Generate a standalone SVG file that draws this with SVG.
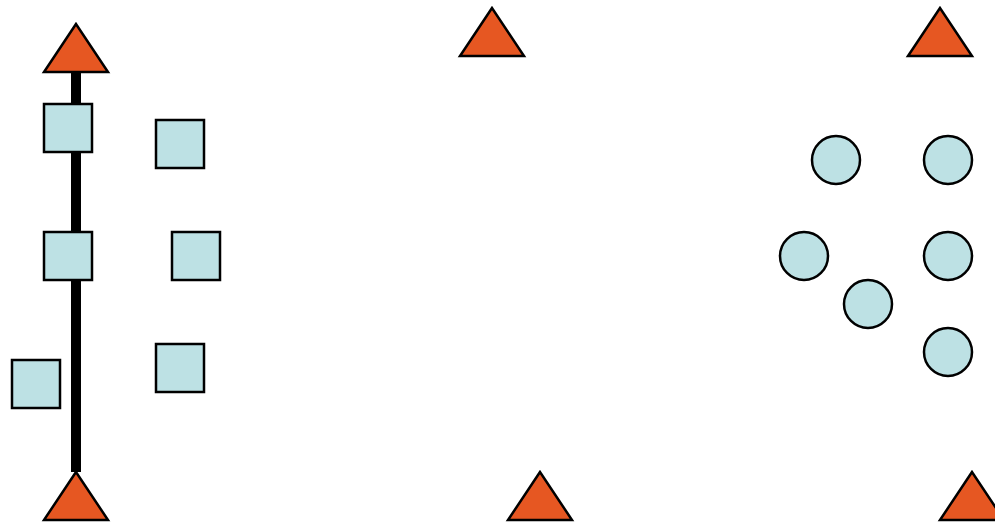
<svg xmlns="http://www.w3.org/2000/svg" width="995" height="523" viewBox="0 0 995 523">
<style>
.tri{fill:#e65722;stroke:#000;stroke-width:2.5;stroke-linejoin:miter}
.sq{fill:#bde1e4;stroke:#000;stroke-width:2.5}
.ci{fill:#bde1e4;stroke:#000;stroke-width:2.5}
.conn{stroke:#000;stroke-width:10;fill:none}
</style>
<rect width="995" height="523" fill="#fff"/>
<g id="connectors">
<line class="conn" x1="76" y1="70" x2="76" y2="472"/>
</g>
<g id="tri-top-left"><polygon class="tri" points="76,24 44,72 108,72"/></g>
<g id="tri-bottom-left"><polygon class="tri" points="76,472 44,520 108,520"/></g>
<g id="tri-top-mid"><polygon class="tri" points="492,8 460,56 524,56"/></g>
<g id="tri-bottom-mid"><polygon class="tri" points="540,472 508,520 572,520"/></g>
<g id="tri-top-right"><polygon class="tri" points="940,8 908,56 972,56"/></g>
<g id="tri-bottom-right"><polygon class="tri" points="972,472 940,520 1004,520"/></g>
<g id="sq1"><rect class="sq" x="44" y="104" width="48" height="48"/></g>
<g id="sq2"><rect class="sq" x="156" y="120" width="48" height="48"/></g>
<g id="sq3"><rect class="sq" x="44" y="232" width="48" height="48"/></g>
<g id="sq4"><rect class="sq" x="172" y="232" width="48" height="48"/></g>
<g id="sq5"><rect class="sq" x="12" y="360" width="48" height="48"/></g>
<g id="sq6"><rect class="sq" x="156" y="344" width="48" height="48"/></g>
<g id="c1"><circle class="ci" cx="836" cy="160" r="24"/></g>
<g id="c2"><circle class="ci" cx="948" cy="160" r="24"/></g>
<g id="c3"><circle class="ci" cx="804" cy="256" r="24"/></g>
<g id="c4"><circle class="ci" cx="948" cy="256" r="24"/></g>
<g id="c5"><circle class="ci" cx="868" cy="304" r="24"/></g>
<g id="c6"><circle class="ci" cx="948" cy="352" r="24"/></g>
</svg>
